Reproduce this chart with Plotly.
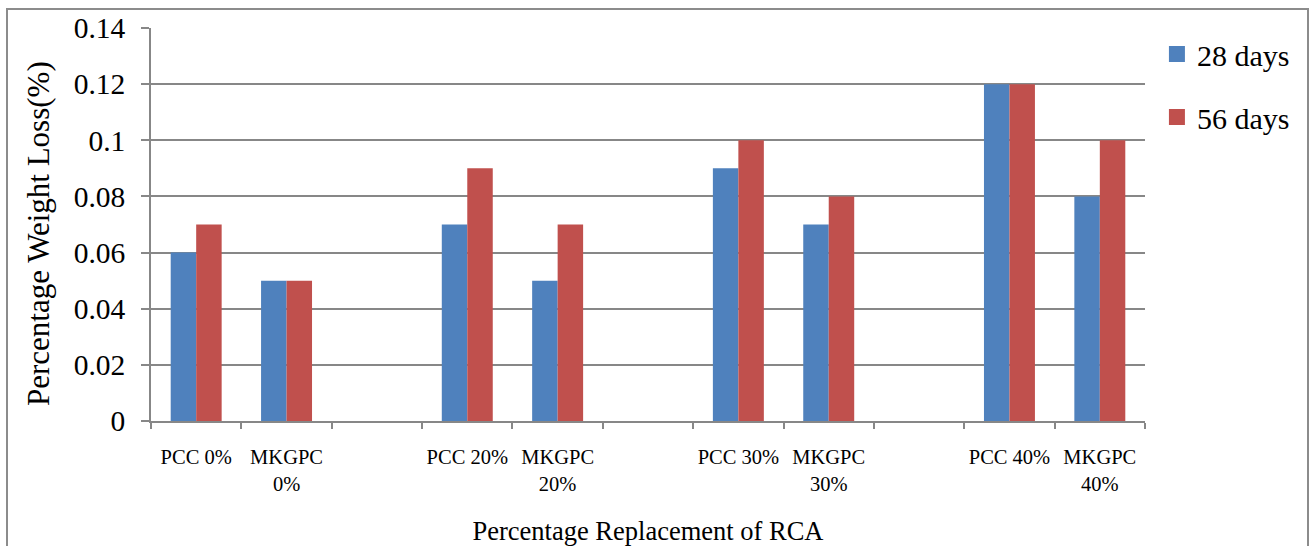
import plotly.graph_objects as go

# Categories (blank spacer columns separate the replacement levels)
categories = [
    "PCC 0%", "MKGPC<br>0%", " ",
    "PCC 20%", "MKGPC<br>20%", "  ",
    "PCC 30%", "MKGPC<br>30%", "   ",
    "PCC 40%", "MKGPC<br>40%",
]

# Percentage weight loss values
days_28 = [0.06, 0.05, None, 0.07, 0.05, None, 0.09, 0.07, None, 0.12, 0.08]
days_56 = [0.07, 0.05, None, 0.09, 0.07, None, 0.10, 0.08, None, 0.12, 0.10]

series_names = ["28 days", "56 days"]
series_colors = ["#4F81BD", "#C0504D"]

y_ticks = [0, 0.02, 0.04, 0.06, 0.08, 0.1, 0.12, 0.14]
y_ticktext = ["0", "0.02", "0.04", "0.06", "0.08", "0.1", "0.12", "0.14"]

FONT = "Liberation Serif, Times New Roman, serif"
GRID = "#878787"

W, H = 1310, 546
L, R, T, B = 151, 165, 28, 125
plot_w = W - L - R
plot_h = H - T - B
axis_y = T + plot_h  # pixel row of the category axis

fig = go.Figure()
for name, vals, col in zip(series_names, [days_28, days_56], series_colors):
    fig.add_trace(go.Bar(
        x=categories, y=vals, name=name, marker=dict(color=col, line=dict(width=0)),
        showlegend=False,
    ))
# Legend entries with larger square swatches
for i, (name, col) in enumerate(zip(series_names, series_colors)):
    fig.add_trace(go.Scatter(
        x=[None], y=[None], mode="markers", name=name, legendgroup=f"g{i}",
        marker=dict(symbol="square", size=16, color=col, line=dict(width=0)),
    ))

# Outer chart border (runs past the bottom edge of the page)
fig.add_shape(
    type="rect", xref="paper", yref="paper",
    x0=(7 - L) / plot_w, x1=(1308 - L) / plot_w,
    y0=(axis_y - 570) / plot_h, y1=(axis_y - 9) / plot_h,
    line=dict(color="#8C8C8C", width=2), fillcolor="rgba(0,0,0,0)", layer="below",
)

# Vertical axis title, placed slightly below the plot's mid-height
fig.add_annotation(
    text="Percentage Weight Loss(%)", textangle=-90, showarrow=False,
    xref="paper", yref="paper",
    x=(38 - L) / plot_w, y=(axis_y - 234) / plot_h,
    xanchor="center", yanchor="middle",
    font=dict(size=31, family=FONT, color="black"),
)

fig.update_layout(
    width=W, height=H,
    margin=dict(l=L, r=R, t=T, b=B, pad=0, autoexpand=False),
    paper_bgcolor="white", plot_bgcolor="white",
    font=dict(family=FONT, color="black"),
    barmode="group", bargap=0.436, bargroupgap=0,
    showlegend=True,
    legend=dict(
        x=1.012, xanchor="left", y=1.0, yanchor="top",
        font=dict(size=30, family=FONT), traceorder="grouped",
        tracegroupgap=21, bgcolor="rgba(0,0,0,0)", itemwidth=30,
    ),
    xaxis=dict(
        type="category", categoryorder="array", categoryarray=categories,
        tickson="boundaries", ticks="outside", ticklen=6, tickcolor=GRID, tickwidth=1.5,
        showline=True, linecolor=GRID, linewidth=1.5, showgrid=False,
        tickfont=dict(size=20.5, family=FONT), ticklabelstandoff=17, tickangle=0,
        automargin=False,
        title=dict(text="Percentage Replacement of RCA", font=dict(size=26.5, family=FONT), standoff=30),
        range=[-0.5, 10.5], fixedrange=True,
    ),
    yaxis=dict(
        range=[0, 0.14], tickvals=y_ticks, ticktext=y_ticktext,
        ticks="outside", ticklen=8, tickcolor=GRID, tickwidth=1.5,
        showline=True, linecolor=GRID, linewidth=1.5, automargin=False,
        showgrid=True, gridcolor=GRID, gridwidth=1.5, zeroline=False,
        tickfont=dict(size=29.5, family=FONT), ticklabelstandoff=10,
    ),
)

fig.write_html("out.html")
